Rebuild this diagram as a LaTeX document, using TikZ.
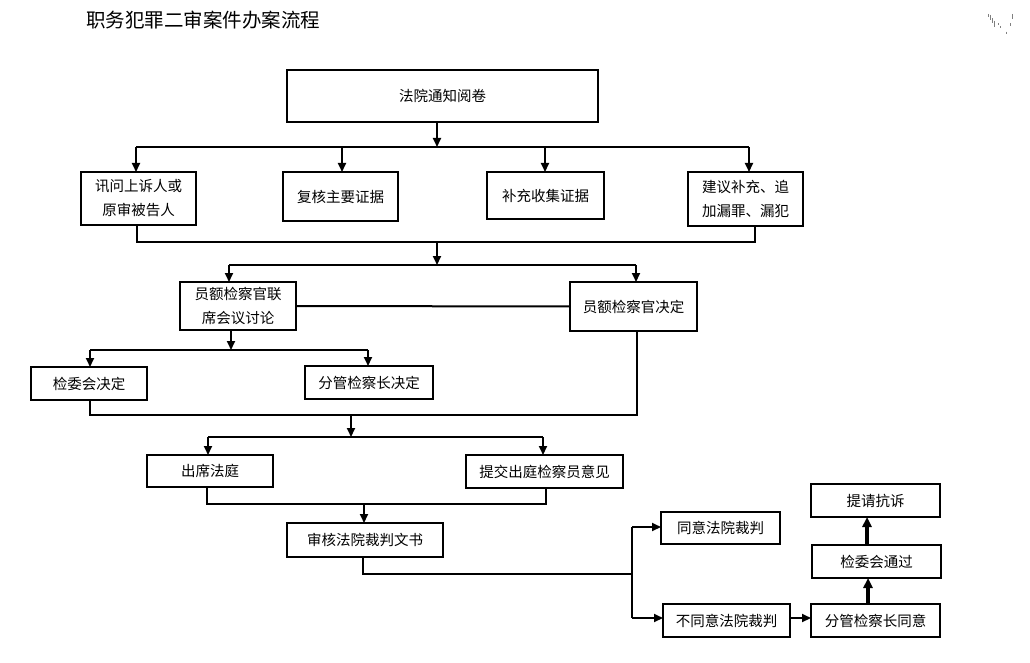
\documentclass[tikz,border=0pt]{standalone}
\usepackage{fontspec}
\setmainfont{Noto Sans CJK SC}
\usetikzlibrary{arrows.meta}
\begin{document}
\begin{tikzpicture}[x=1pt,y=-1pt,
  box/.style={draw=black,line width=2pt,inner sep=0pt,outer sep=0pt,align=center,
    font=\fontsize{14.5}{24}\selectfont},
  conn/.style={line width=2pt},
  arr/.style={line width=2pt,-{Triangle[length=9pt,width=8pt]}},
  tharr/.style={line width=3.5pt,-{Triangle[length=10pt,width=9pt]}},
  faintmark/.style={gray,line width=1pt}
]
\useasboundingbox (0,0) rectangle (1030,663);
\fill[white] (0,0) rectangle (1030,663);

% title
\node[anchor=west,inner sep=0pt,font=\fontsize{19.5}{22}\selectfont] (title) at (86,20) {职务犯罪二审案件办案流程};

% faint marks top right
\foreach \x/\ya/\yb in {988.3/14/16.7,990/15/20,992.3/18.3/23.3,994.3/20.7/26.7,998.3/23.3/25,1000/26/27.7,1006/31.7/34.3,1010/23.3/25.7,1012.3/14/19.3}
  \draw[faintmark] (\x,\ya) -- (\x,\yb);

% nodes
\node[box,minimum width=311pt,minimum height=52pt] (A) at (442.5,96) {法院通知阅卷};
\node[box,minimum width=115pt,minimum height=53pt] (B1) at (138.5,198.5) {讯问上诉人或\\原审被告人};
\node[box,minimum width=115pt,minimum height=49pt] (B2) at (340.5,196.5) {复核主要证据};
\node[box,minimum width=117pt,minimum height=47pt] (B3) at (545.5,195.5) {补充收集证据};
\node[box,minimum width=115pt,minimum height=54pt] (B4) at (745.5,199) {建议补充、追\\加漏罪、漏犯};
\node[box,minimum width=116pt,minimum height=48pt] (C1) at (238,306) {员额检察官联\\席会议讨论};
\node[box,minimum width=127pt,minimum height=49pt] (C2) at (633.5,306.5) {员额检察官决定};
\node[box,minimum width=116pt,minimum height=33pt] (D1) at (89,383.5) {检委会决定};
\node[box,minimum width=128pt,minimum height=33pt] (D2) at (369,382.5) {分管检察长决定};
\node[box,minimum width=126pt,minimum height=32pt] (E1) at (210,471) {出席法庭};
\node[box,minimum width=157pt,minimum height=33pt] (E2) at (544.5,471.5) {提交出庭检察员意见};
\node[box,minimum width=156pt,minimum height=34pt] (F) at (365,540) {审核法院裁判文书};
\node[box,minimum width=119pt,minimum height=32pt] (G1) at (720.5,528) {同意法院裁判};
\node[box,minimum width=127pt,minimum height=33pt] (G2) at (726.5,620.5) {不同意法院裁判};
\node[box,minimum width=129pt,minimum height=33pt] (H1) at (875.5,620.5) {分管检察长同意};
\node[box,minimum width=129pt,minimum height=33pt] (H2) at (876.5,561.5) {检委会通过};
\node[box,minimum width=129pt,minimum height=33pt] (H3) at (875.5,500.5) {提请抗诉};

% A -> row B
\coordinate (a1) at (437,147);
\coordinate (t1) at (136,147);
\coordinate (t2) at (342,147);
\coordinate (t3) at (545,147);
\coordinate (t4) at (749,147);
\draw[arr] (A.south -| a1) -- (a1);
\draw[conn] (t1) -- (t4);
\draw[arr] (t1) -- (B1.north -| t1);
\draw[arr] (t2) -- (B2.north -| t2);
\draw[arr] (t3) -- (B3.north -| t3);
\draw[arr] (t4) -- (B4.north -| t4);

% row B -> row C
\coordinate (u1) at (137,242);
\coordinate (u2) at (755,242);
\coordinate (m1) at (437,242);
\coordinate (m2) at (437,265);
\coordinate (v1) at (229,265);
\coordinate (v2) at (636,265);
\draw[conn] (B1.south -| u1) -- (u1) -- (u2) -- (B4.south -| u2);
\draw[arr] (m1) -- (m2);
\draw[conn] (v1) -- (v2);
\draw[arr] (v1) -- (C1.north -| v1);
\draw[arr] (v2) -- (C2.north -| v2);
\draw[conn] (C1.east) -- (C2.west);

% C1 -> row D
\coordinate (c1) at (231,350);
\coordinate (w1) at (90,350);
\coordinate (w2) at (368,350);
\draw[arr] (C1.south -| c1) -- (c1);
\draw[conn] (w1) -- (w2);
\draw[arr] (w1) -- (D1.north -| w1);
\draw[arr] (w2) -- (D2.north -| w2);

% row D / C2 -> row E
\coordinate (x1) at (90,415);
\coordinate (x2) at (637,415);
\coordinate (n1) at (351,415);
\coordinate (n2) at (351,437);
\coordinate (y1) at (208,437);
\coordinate (y2) at (543,437);
\draw[conn] (D1.south -| x1) -- (x1) -- (x2) -- (C2.south -| x2);
\draw[arr] (n1) -- (n2);
\draw[conn] (y1) -- (y2);
\draw[arr] (y1) -- (E1.north -| y1);
\draw[arr] (y2) -- (E2.north -| y2);

% row E -> F
\coordinate (z1) at (207,504);
\coordinate (z2) at (546,504);
\coordinate (p1) at (364,504);
\draw[conn] (E1.south -| z1) -- (z1) -- (z2) -- (E2.south -| z2);
\draw[arr] (p1) -- (F.north -| p1);

% F -> G
\coordinate (f1) at (363,574);
\coordinate (f2) at (632,574);
\coordinate (g1) at (632,527);
\coordinate (g2) at (632,618);
\draw[conn] (F.south -| f1) -- (f1) -- (f2);
\draw[conn] (g1) -- (g2);
\draw[arr] (g1) -- (G1.west |- g1);
\draw[arr] (g2) -- (G2.west |- g2);

% G2 -> H chain
\draw[arr] (G2.east |- g2) -- (H1.west |- g2);
\coordinate (h1) at (868,0);
\coordinate (h2) at (867,0);
\draw[tharr] (H1.north -| h1) -- (H2.south -| h1);
\draw[tharr] (H2.north -| h2) -- (H3.south -| h2);
\end{tikzpicture}
\end{document}
